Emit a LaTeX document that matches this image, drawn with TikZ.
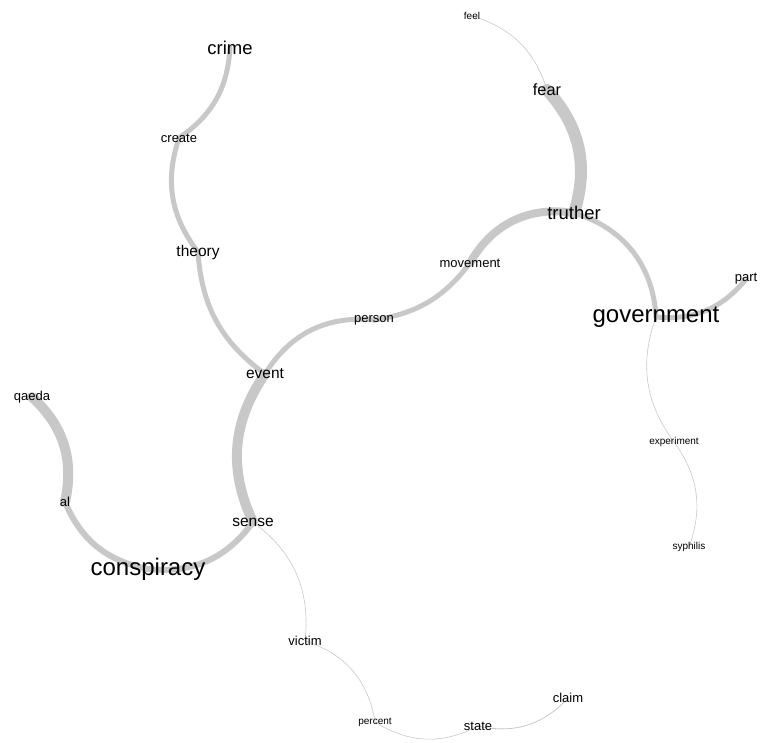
\documentclass[tikz,border=0pt]{standalone}
\usepackage{fontspec}
\setmainfont{Liberation Sans}
\usetikzlibrary{backgrounds}
\definecolor{edgegray}{RGB}{200,200,200}
\tikzset{
  word/.style={inner sep=0pt, text=black},
  wordXL/.style={word, font=\fontsize{24}{24}\selectfont},
  wordL/.style={word, font=\fontsize{18.5}{18.5}\selectfont},
  wordM/.style={word, font=\fontsize{16.3}{16.3}\selectfont},
  wordS/.style={word, font=\fontsize{15.5}{15.5}\selectfont},
  wordXS/.style={word, font=\fontsize{13}{13}\selectfont},
  wordT/.style={word, font=\fontsize{10}{10}\selectfont},
  link/.style={draw=edgegray, line cap=round},
}
\begin{document}
\begin{tikzpicture}[x=1pt,y=1pt]
    \useasboundingbox (0,0) rectangle (760,-742);
    % words
    \foreach \w/\x/\y/\sz in {crime/230/48/wordL, create/179/138/wordXS, theory/198/252/wordS,
        event/265/374/wordS, person/374/320/wordXS, movement/470/263/wordXS, truther/574/213/wordL,
        fear/547/90/wordM, feel/472/16/wordT, government/656/317/wordXL, part/746/279/wordXS,
        experiment/674/442/wordT, syphilis/689/547/wordT, sense/253/522/wordS,
        conspiracy/148/569/wordXL, al/65/502/wordXS, qaeda/32/397/wordXS, victim/305/641/wordXS,
        percent/375/722/wordT, state/478/726/wordXS, claim/568/698/wordXS} {
        \node[\sz] (\w) at (\x,-\y) {\w};
    }
    % links
    \begin{scope}[on background layer]
        \foreach \a/\b/\lw/\ang in {crime/create/5/26, create/theory/5/-28, theory/event/5/-25,
            event/sense/10/-30, event/person/5/32, person/movement/5/-22, movement/truther/8/35,
            truther/fear/12/-30, fear/feel/0.6/-28, truther/government/5/35, government/part/5/-28,
            government/experiment/0.6/-28, experiment/syphilis/0.6/28, sense/conspiracy/6/30,
            conspiracy/al/6/28, al/qaeda/10/-30, sense/victim/0.6/30, victim/percent/0.6/32,
            percent/state/0.6/-30, state/claim/0.8/-30} {
            \draw[link, line width=\lw pt] (\a.center) to[bend left=\ang] (\b.center);
        }
    \end{scope}
\end{tikzpicture}
\end{document}
